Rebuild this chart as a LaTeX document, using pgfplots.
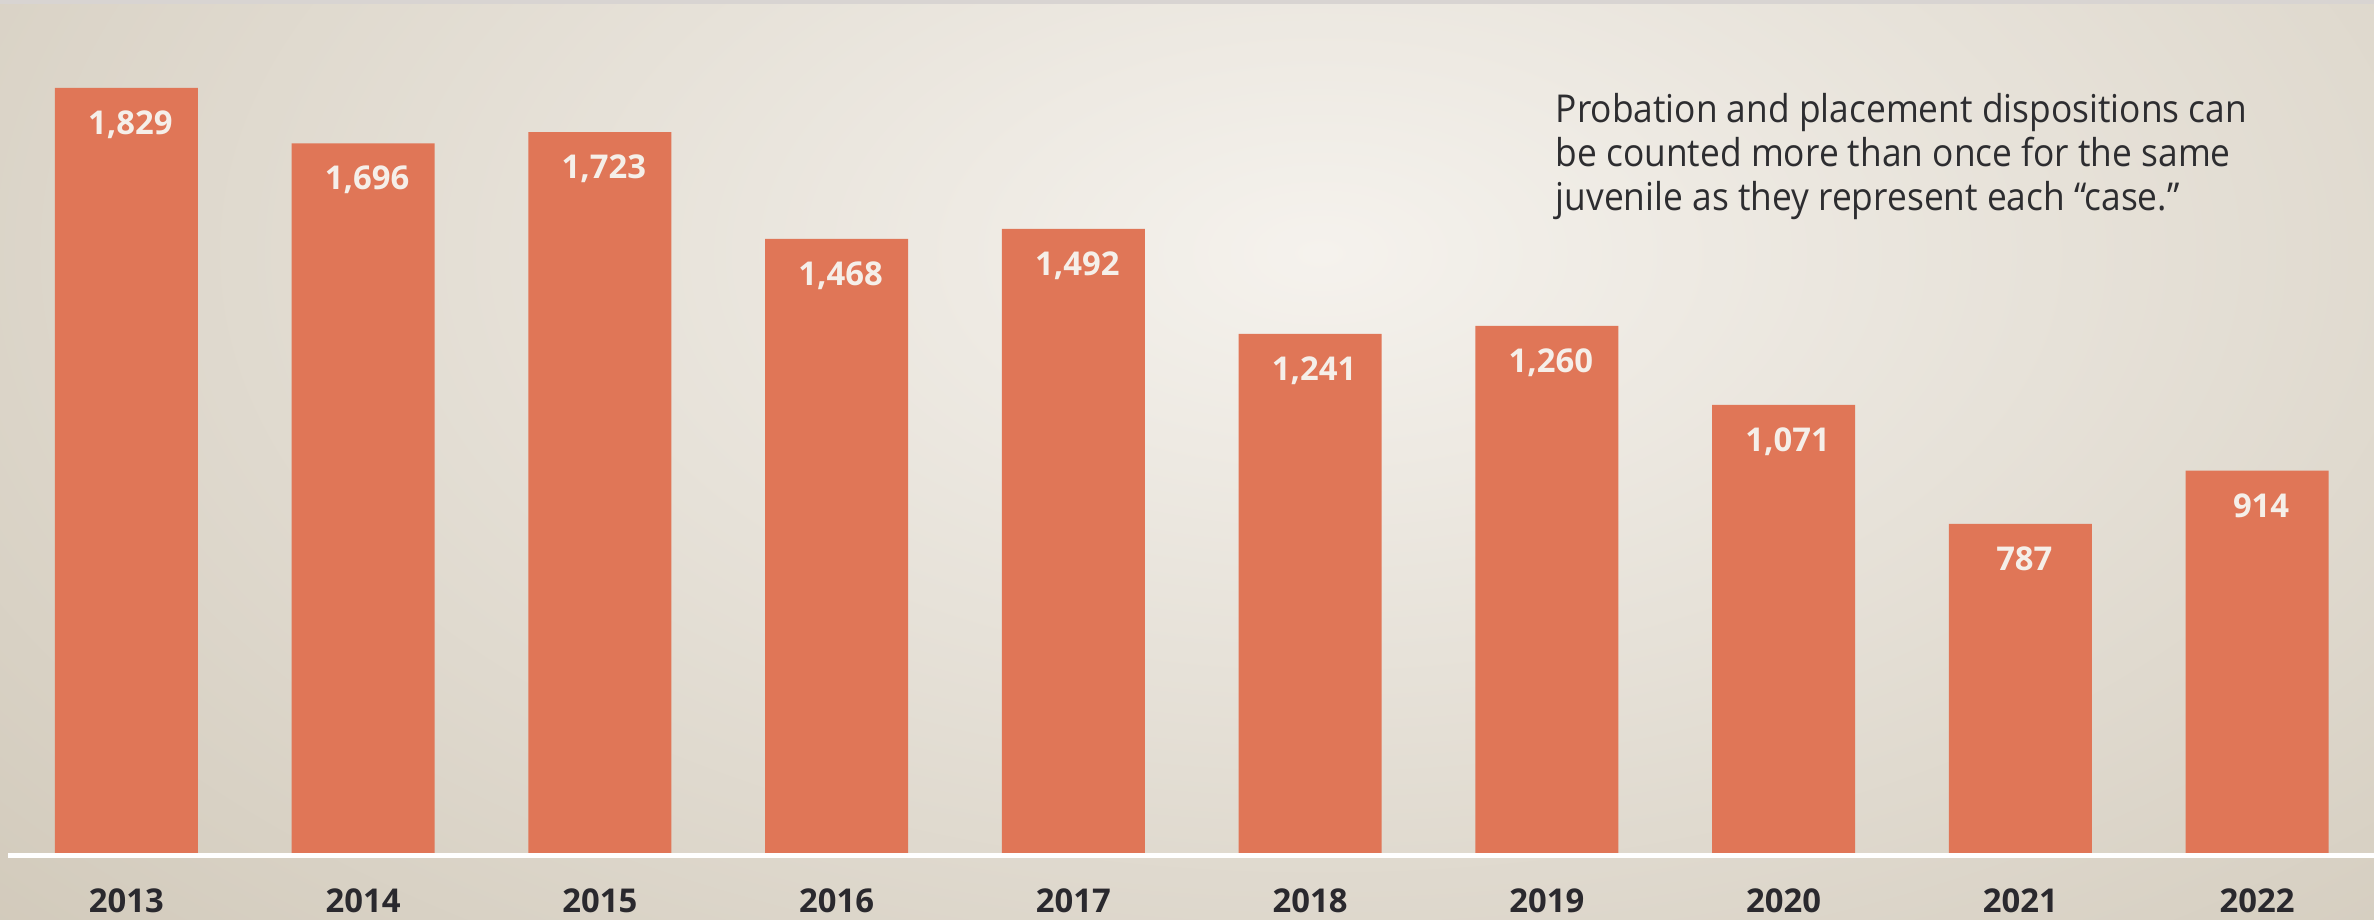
\documentclass[border=0pt]{standalone}
\usepackage{fontspec}
\setmainfont{Open Sans}
\newfontfamily\notefont{Open Sans}[FakeStretch=0.92]
\usepackage{pgfplots}
\pgfplotsset{compat=1.18}
\definecolor{barc}{RGB}{224,118,87}
\definecolor{bgout}{RGB}{195,185,166}
\definecolor{bgin}{RGB}{245,242,237}
\definecolor{lab}{RGB}{245,239,233}
\definecolor{yr}{RGB}{42,41,46}
\definecolor{note}{RGB}{45,45,48}
\definecolor{strip}{RGB}{216,212,210}
\begin{document}
\begin{tikzpicture}
\path[use as bounding box] (0,-16.75pt) rectangle (593.5pt,213.25pt);
\begin{scope}
\clip (0,-16.75pt) rectangle (593.5pt,213.25pt);
\fill[bgout] (0,-16.75pt) rectangle (593.5pt,213.25pt);
\shade[inner color=bgin, outer color=bgout] (330pt,150pt) ellipse (640pt and 360pt);
\fill[strip] (0,212.25pt) rectangle (593.5pt,213.25pt);
\end{scope}
\begin{axis}[
  at={(0,0)}, anchor=south west,
  scale only axis, width=593.5pt, height=213.25pt,
  xmin=-0.534, xmax=9.494, ymin=0, ymax=2039,
  clip=false,
  axis line style={draw=none},
  ytick=\empty,
  xtick=data,
  xticklabels={2013,2014,2015,2016,2017,2018,2019,2020,2021,2022},
  major tick length=0pt,
  xticklabel style={anchor=base, yshift=-15pt, font=\fontsize{8.2}{9.8}\selectfont\bfseries, text=yr},
  ybar, bar width=0.604,
  /pgf/number format/.cd, 1000 sep={,}, assume math mode=true, /pgfplots/.cd,
  nodes near coords,
  every node near coord/.append style={anchor=north, yshift=-5.5pt, xshift=1pt, inner sep=0pt, font=\fontsize{8.2}{9.8}\selectfont\bfseries, text=lab},
]
\addplot[fill=barc, draw=none] coordinates {
(0,1829) (1,1696) (2,1723) (3,1468) (4,1492) (5,1241) (6,1260) (7,1071) (8,787) (9,914)};
\draw[white, line width=1.25pt] (axis cs:-0.5,-6) -- (axis cs:9.494,-6);
\node[anchor=north west, inner sep=0pt, align=left, font=\notefont\fontsize{9.6}{11}\selectfont, text=note] at (rel axis cs:0.655,0.892) {Probation and placement dispositions can\\be counted more than once for the same\\juvenile as they represent each “case.”};
\end{axis}
\end{tikzpicture}
\end{document}
